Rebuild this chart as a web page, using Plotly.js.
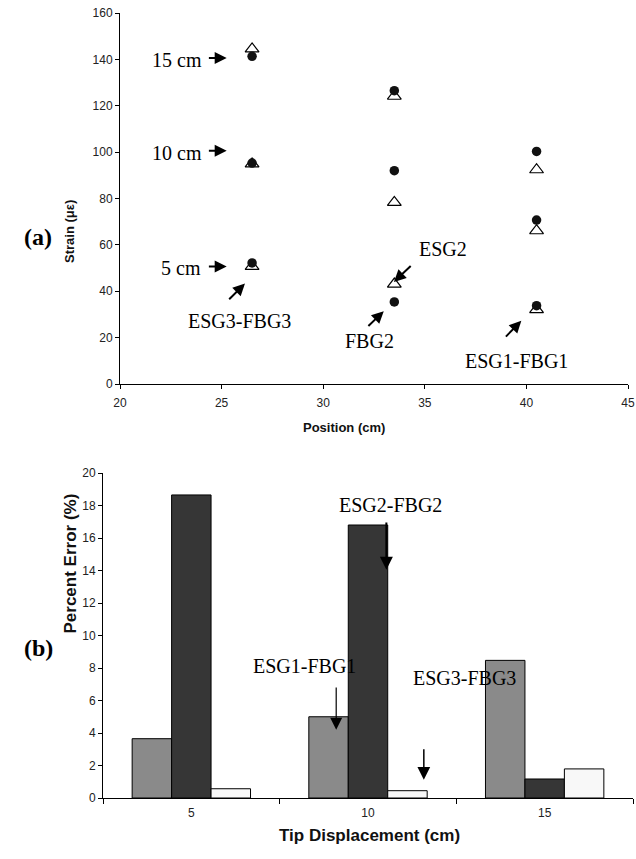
<!DOCTYPE html>
<html>
<head>
<meta charset="utf-8">
<script src="https://cdn.plot.ly/plotly-3.0.1.min.js"></script>
<style>html,body{margin:0;padding:0;background:#fff;}#chart{width:636px;height:859px;}</style>
</head>
<body>
<div id="chart"></div>
<script>
// Panel (a): strain vs position
const positions = [26.5, 33.5, 40.5];
const fbg5 = [52.2, 35.4, 33.8];
const fbg10 = [95.3, 92.0, 70.7];
const fbg15 = [141.3, 126.5, 100.3];
const esg5 = [50.7, 43.1, 32.1];
const esg10 = [94.9, 78.3, 66.1];
const esg15 = [144.5, 124.1, 92.4];

// Panel (b): percent error vs tip displacement
const tipCats = ['5', '10', '15'];
const err1 = [3.65, 5.0, 8.47];   // ESG1-FBG1
const err2 = [18.65, 16.8, 1.17]; // ESG2-FBG2
const err3 = [0.57, 0.45, 1.79];  // ESG3-FBG3

const W = 636, H = 859;
const px = (a, b) => [a / W, b / W];
const py = (top, bot) => [1 - bot / H, 1 - top / H];

const fbgX = [].concat(positions, positions, positions);
const fbgY = [].concat(fbg5, fbg10, fbg15);
const esgY = [].concat(esg5, esg10, esg15);

const traces = [
  {x: fbgX, y: esgY, type: 'scatter', mode: 'markers', xaxis: 'x', yaxis: 'y',
   marker: {symbol: 'triangle-up-open', size: 12, color: '#000', line: {width: 1.2, color: '#000'}}},
  {x: fbgX, y: fbgY, type: 'scatter', mode: 'markers', xaxis: 'x', yaxis: 'y',
   marker: {symbol: 'circle', size: 9.5, color: '#111'}},
  {x: tipCats, y: err1, type: 'bar', xaxis: 'x2', yaxis: 'y2',
   marker: {color: '#8a8a8a', line: {color: '#000', width: 1}}},
  {x: tipCats, y: err2, type: 'bar', xaxis: 'x2', yaxis: 'y2',
   marker: {color: '#363636', line: {color: '#000', width: 1}}},
  {x: tipCats, y: err3, type: 'bar', xaxis: 'x2', yaxis: 'y2',
   marker: {color: '#f8f8f8', line: {color: '#000', width: 1}}}
];

const tickFont = {family: 'Liberation Sans, Arial, sans-serif', size: 12, color: '#222'};
const serif = {family: 'Liberation Serif, Times New Roman, serif', size: 20, color: '#000'};

function txt(x, y, t, xr, yr, extra) {
  return Object.assign({x: x, y: y, xref: xr, yref: yr, text: t, showarrow: false, font: serif}, extra || {});
}
function arr(x, y, ax, ay, xr, yr, w, s) {
  return {x: x, y: y, ax: ax, ay: ay, xref: xr, yref: yr, axref: xr, ayref: yr, text: '',
          showarrow: true, arrowhead: 2, arrowsize: s || 1.2, arrowwidth: w || 2, arrowcolor: '#000'};
}

const annotations = [
  // panel (a)
  txt(22.8, 139.6, '15 cm', 'x', 'y'),
  arr(25.25, 140.6, 24.3, 140.6, 'x', 'y'),
  txt(22.8, 99.8, '10 cm', 'x', 'y'),
  arr(25.25, 100.6, 24.3, 100.6, 'x', 'y'),
  txt(23.0, 50.2, '5 cm', 'x', 'y'),
  arr(25.25, 50.7, 24.3, 50.7, 'x', 'y'),
  txt(25.9, 27.3, 'ESG3-FBG3', 'x', 'y'),
  arr(26.15, 43.3, 25.3, 35.9, 'x', 'y'),
  txt(32.3, 18.7, 'FBG2', 'x', 'y'),
  arr(32.98, 31.4, 32.15, 24.4, 'x', 'y'),
  txt(35.9, 58.2, 'ESG2', 'x', 'y'),
  arr(33.48, 44.0, 34.38, 51.5, 'x', 'y'),
  txt(39.5, 10.1, 'ESG1-FBG1', 'x', 'y'),
  arr(39.75, 27.3, 38.92, 19.8, 'x', 'y'),
  // panel (b)
  txt(1.13, 18.0, 'ESG2-FBG2', 'x2', 'y2'),
  arr(1.104, 14.05, 1.104, 17.05, 'x2', 'y2', 2, 1.3),
  txt(0.64, 8.1, 'ESG1-FBG1', 'x2', 'y2'),
  arr(0.82, 4.2, 0.82, 6.9, 'x2', 'y2', 1.2, 2),
  txt(1.546, 7.38, 'ESG3-FBG3', 'x2', 'y2'),
  arr(1.316, 1.13, 1.316, 3.1, 'x2', 'y2', 1.5, 1.7),
  // panel labels and titles
  {x: 22 / W, y: 1 - 222 / H, xref: 'paper', yref: 'paper', text: '<b>(a)</b>', showarrow: false,
   font: {family: 'Liberation Serif, Times New Roman, serif', size: 24, color: '#000'}},
  {x: 22 / W, y: 1 - 663 / H, xref: 'paper', yref: 'paper', text: '<b>(b)</b>', showarrow: false,
   font: {family: 'Liberation Serif, Times New Roman, serif', size: 24, color: '#000'}},
  {x: 344 / W, y: 1 - 427 / H, xref: 'paper', yref: 'paper', text: '<b>Position (cm)</b>', showarrow: false,
   font: {family: 'Liberation Sans, Arial, sans-serif', size: 13, color: '#111'}},
  {x: 60 / W, y: 1 - 198 / H, xref: 'paper', yref: 'paper', text: '<b>Strain (με)</b>', showarrow: false, textangle: -90,
   font: {family: 'Liberation Sans, Arial, sans-serif', size: 13, color: '#111'}},
  {x: 369 / W, y: 1 - 847 / H, xref: 'paper', yref: 'paper', text: '<b>Tip Displacement (cm)</b>', showarrow: false,
   font: {family: 'Liberation Sans, Arial, sans-serif', size: 17, color: '#111'}},
  {x: 58 / W, y: 1 - 636 / H, xref: 'paper', yref: 'paper', text: '<b>Percent Error (%)</b>', showarrow: false, textangle: -90,
   font: {family: 'Liberation Sans, Arial, sans-serif', size: 17, color: '#111'}}
];

const axisBase = {showgrid: false, zeroline: false, showline: true, linecolor: '#000', linewidth: 1,
                  ticks: 'outside', ticklen: 4, tickcolor: '#000', tickfont: tickFont};

const layout = {
  width: W, height: H,
  margin: {l: 0, r: 0, t: 0, b: 0},
  paper_bgcolor: '#fff', plot_bgcolor: '#fff',
  showlegend: false,
  barmode: 'group', bargap: 0.33, bargroupgap: 0,
  xaxis: Object.assign({}, axisBase, {domain: px(120, 628), range: [20, 45], dtick: 5, tick0: 20, anchor: 'y',
                                      ticklabelstandoff: 4}),
  yaxis: Object.assign({}, axisBase, {domain: py(13, 384), range: [0, 160], dtick: 20, tick0: 0, anchor: 'x'}),
  xaxis2: Object.assign({}, axisBase, {domain: px(103, 633), type: 'category', range: [-0.5, 2.5],
                                       tickson: 'boundaries', anchor: 'y2', ticklen: 5, ticklabelstandoff: 4}),
  yaxis2: Object.assign({}, axisBase, {domain: py(473, 798), range: [0, 20], dtick: 2, tick0: 0, anchor: 'x2'}),
  annotations: annotations
};

Plotly.newPlot('chart', traces, layout, {staticPlot: true, displayModeBar: false});
</script>
</body>
</html>
